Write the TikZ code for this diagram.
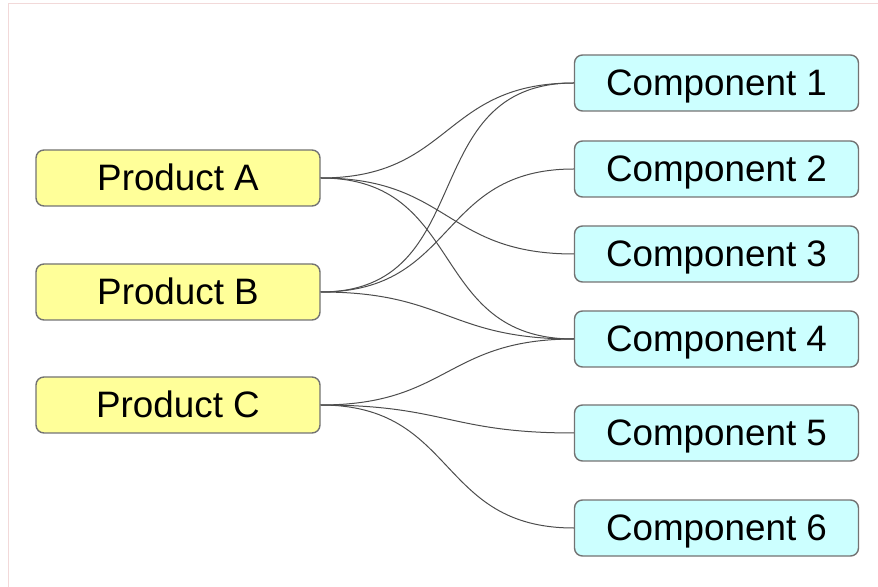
\documentclass[tikz,border=0pt]{standalone}
\usepackage{fontspec}
\setmainfont{Liberation Sans}
\definecolor{prodfill}{HTML}{FFFF99}
\definecolor{compfill}{HTML}{CCFFFF}
\definecolor{frame}{HTML}{F2D9D9}
\tikzset{
  box/.style={draw=black!55, line width=0.7pt, rounded corners=4pt,
    minimum width=142pt, minimum height=28pt, inner sep=0pt,
    text height=12.9pt, text depth=0pt,
    font=\fontsize{18.4}{20}\selectfont},
  product/.style={box, fill=prodfill},
  component/.style={box, fill=compfill},
  link/.style={draw=black!70, line width=0.5pt, out=0, in=180, looseness=1.25},
}
\begin{document}
\begin{tikzpicture}[x=0.5pt, y=-0.5pt]
      \useasboundingbox (0,0) rectangle (878,587);
      \draw[frame, line width=0.5pt] (878,4) -- (8,4) -- (8,587);
      \draw
        (178,178) node[product] (A){Product A}
        (178,292) node[product] (B){Product B}
        (178,405) node[product] (C){Product C}
        (716.5,83) node[component] (c1){Component 1}
        (716.5,169) node[component] (c2){Component 2}
        (716.5,254) node[component] (c3){Component 3}
        (716.5,339) node[component] (c4){Component 4}
        (716.5,433) node[component] (c5){Component 5}
        (716.5,528) node[component] (c6){Component 6};
      \begin{scope}[link]
        \draw (A.east) to (c1.west);
        \draw (A.east) to (c3.west);
        \draw (A.east) to (c4.west);
        \draw (B.east) to (c1.west);
        \draw (B.east) to (c2.west);
        \draw (B.east) to (c4.west);
        \draw (C.east) to (c4.west);
        \draw (C.east) to (c5.west);
        \draw (C.east) to (c6.west);
      \end{scope}
    \end{tikzpicture}
\end{document}
